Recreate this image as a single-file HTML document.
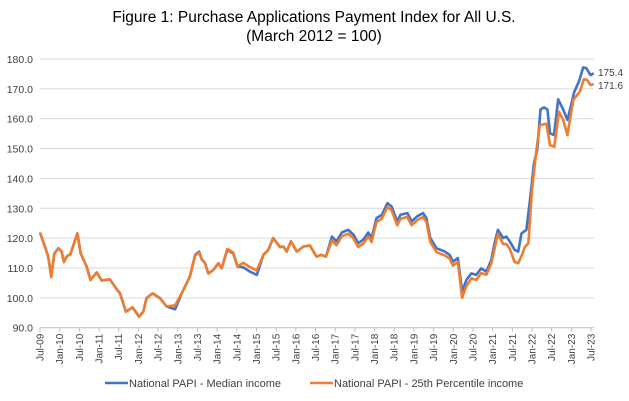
<!DOCTYPE html>
<html><head><meta charset="utf-8"><style>
html,body{margin:0;padding:0;background:#fff;}
svg{display:block;font-family:"Liberation Sans",sans-serif;}
</style></head><body>
<svg id="c" width="629" height="401" viewBox="0 0 629 401" xmlns="http://www.w3.org/2000/svg">
<text x="314" y="22" text-anchor="middle" font-size="15.5" fill="#000">Figure 1: Purchase Applications Payment Index for All U.S.</text>
<text x="314" y="41" text-anchor="middle" font-size="15.5" fill="#000">(March 2012 = 100)</text>
<g id="grid"></g>
<g id="ser"></g>
<text x="598" y="76" font-size="10" fill="#404040">175.4</text>
<text x="598" y="89" font-size="10" fill="#404040">171.6</text>
<line x1="105" y1="383" x2="128" y2="383" stroke="#4472C4" stroke-width="2.5"/>
<text x="129" y="387" font-size="11" fill="#404040">National PAPI - Median income</text>
<line x1="310" y1="383" x2="333" y2="383" stroke="#ED7D31" stroke-width="2.5"/>
<text x="334" y="387" font-size="11" fill="#404040">National PAPI - 25th Percentile income</text>
</svg>
<script>
var NS="http://www.w3.org/2000/svg";
function el(t,a,p,txt){var e=document.createElementNS(NS,t);for(var k in a)e.setAttribute(k,a[k]);if(txt)e.textContent=txt;p.appendChild(e);return e;}
var g=document.getElementById('grid'),s=document.getElementById('ser');
function Y(v){return 59+(180-v)*268.7/90;}
function X(m){return 40+m*3.28;}
for(var v=90;v<=180;v+=10){var y=Y(v);
 el('line',{x1:40,y1:y,x2:594,y2:y,stroke:v==90?'#bfbfbf':'#d9d9d9','stroke-width':1},g);
 el('text',{x:33,y:y+4,'text-anchor':'end','font-size':10.5,fill:'#404040'},g,v.toFixed(1));}
var mon=['Jul','Jan'];
for(var i=0;i<=28;i++){var m=i*6,x=X(m);
 el('line',{x1:x,y1:Y(90),x2:x,y2:Y(90)+4,stroke:'#bfbfbf'},g);
 var yr=9+Math.floor((i+1)/2);var lab=(i%2==0?'Jul-':'Jan-')+(yr<10?'0':'')+yr;
 el('text',{x:0,y:0,transform:'translate('+(x+3.5)+','+(Y(90)+6)+') rotate(-90)','text-anchor':'end','font-size':10,fill:'#404040'},g,lab);}
var med=[[0,121.9],[1.5,117.2],[2.5,113.8],[3.4,107.7],[4.4,114.9],[5.6,116.6],[6.6,115.5],[7.3,112],[8.1,113.8],[9.3,114.7],[10.4,118.3],[11.4,121.6],[12.4,114.9],[14.2,110.5],[15.4,106],[17.3,108.5],[18.8,105.8],[21.3,106.2],[23.2,103.2],[24.4,101.5],[26.2,95.4],[28.2,96.8],[30.2,93.7],[31.5,95.4],[32.5,99.9],[34.3,101.5],[36.6,99.9],[38.6,97.1],[41.2,96.2],[43.2,101.5],[45.7,107.1],[47.3,114.4],[48.5,115.5],[49.3,112.9],[50.3,111.6],[51.3,108.2],[52.8,109.3],[54.4,111.6],[55.4,109.9],[57.1,116.1],[58.9,114.9],[60.2,110.5],[62,110.2],[64,108.8],[66.1,107.7],[68.1,114.4],[69.6,116.1],[71.1,120],[73.2,117],[74.2,117.2],[75.2,115.5],[76.5,118.9],[78.3,115.5],[80.3,117.2],[82.3,117.5],[84.3,113.8],[85.8,114.4],[87.2,113.8],[89,120.5],[90.4,118.9],[92,121.9],[94,122.8],[95.6,121.1],[97,118.3],[98.6,119.5],[100.1,121.9],[101.1,120],[102.6,126.7],[104.2,127.8],[105.9,131.7],[107.2,130.6],[108.9,125.6],[109.9,127.8],[112,128.4],[113.3,125.6],[115,127.3],[116.8,128.4],[117.8,126.7],[119,120],[120.9,116.6],[122.1,116.1],[123.4,115.5],[124.9,114.4],[125.9,112.1],[127.4,113.3],[128.7,102.1],[130,106],[131.5,108.2],[133,107.7],[134.5,109.9],[136.1,108.8],[137.6,112.7],[138.6,118.3],[139.6,122.8],[141.2,120],[142.2,120.5],[143.2,118.9],[144.7,116.1],[145.8,115.5],[146.8,121.6],[148.3,122.8],[149.4,132.8],[150.6,145.1],[151.6,149.5],[152.6,163.1],[153.7,163.8],[154.7,163.1],[155.5,155.1],[156.7,154.5],[158,166.5],[159.5,163.1],[160.8,159.6],[161.8,164],[162.8,168.7],[164.4,172.7],[165.6,177.2],[166.6,176.9],[167.8,174.6],[168.8,175.2]];
var org=[];
med.forEach(function(p){var m=p[0],v=p[1];if(m>=128.7)return;
 var o=0;if(m>=88&&m<128)o=1.3;if(m==41.2)o=-1.3;if(m==3.4)o=0.8;if(m==47.3||m==48.5)o=0.3;if(m==62||m==64||m==66.1)o=-1.5;if(m>=57&&m<=60)o=-0.3;
 org.push([m,v-o]);});
org=org.concat([[128.7,100],[130,104],[131.5,106.5],[133,106],[134.5,108.3],[136.1,107.8],[137.6,111.5],[138.6,116.5],[139.6,121.5],[141.2,118],[142.2,118],[143.2,116.5],[144.7,112],[145.8,111.6],[146.8,114],[147.8,117],[148.9,118.3],[150,136.2],[151.4,150],[152.4,157.9],[154.4,158.3],[155.5,151.2],[156.8,150.6],[158.2,162.3],[159.5,159.6],[160.8,154.5],[162.6,166.3],[164.6,169.1],[165.8,173.2],[166.8,173],[167.8,171.3],[168.8,171.6]]);
function path(a,c){var d='';a.forEach(function(p,i){d+=(i?'L':'M')+X(p[0]).toFixed(1)+','+Y(p[1]).toFixed(1);});
 el('path',{d:d,fill:'none',stroke:c,'stroke-width':2.6,'stroke-linejoin':'round'},s);}
path(med,'#4472C4');path(org,'#ED7D31');
</script>
</body></html>
